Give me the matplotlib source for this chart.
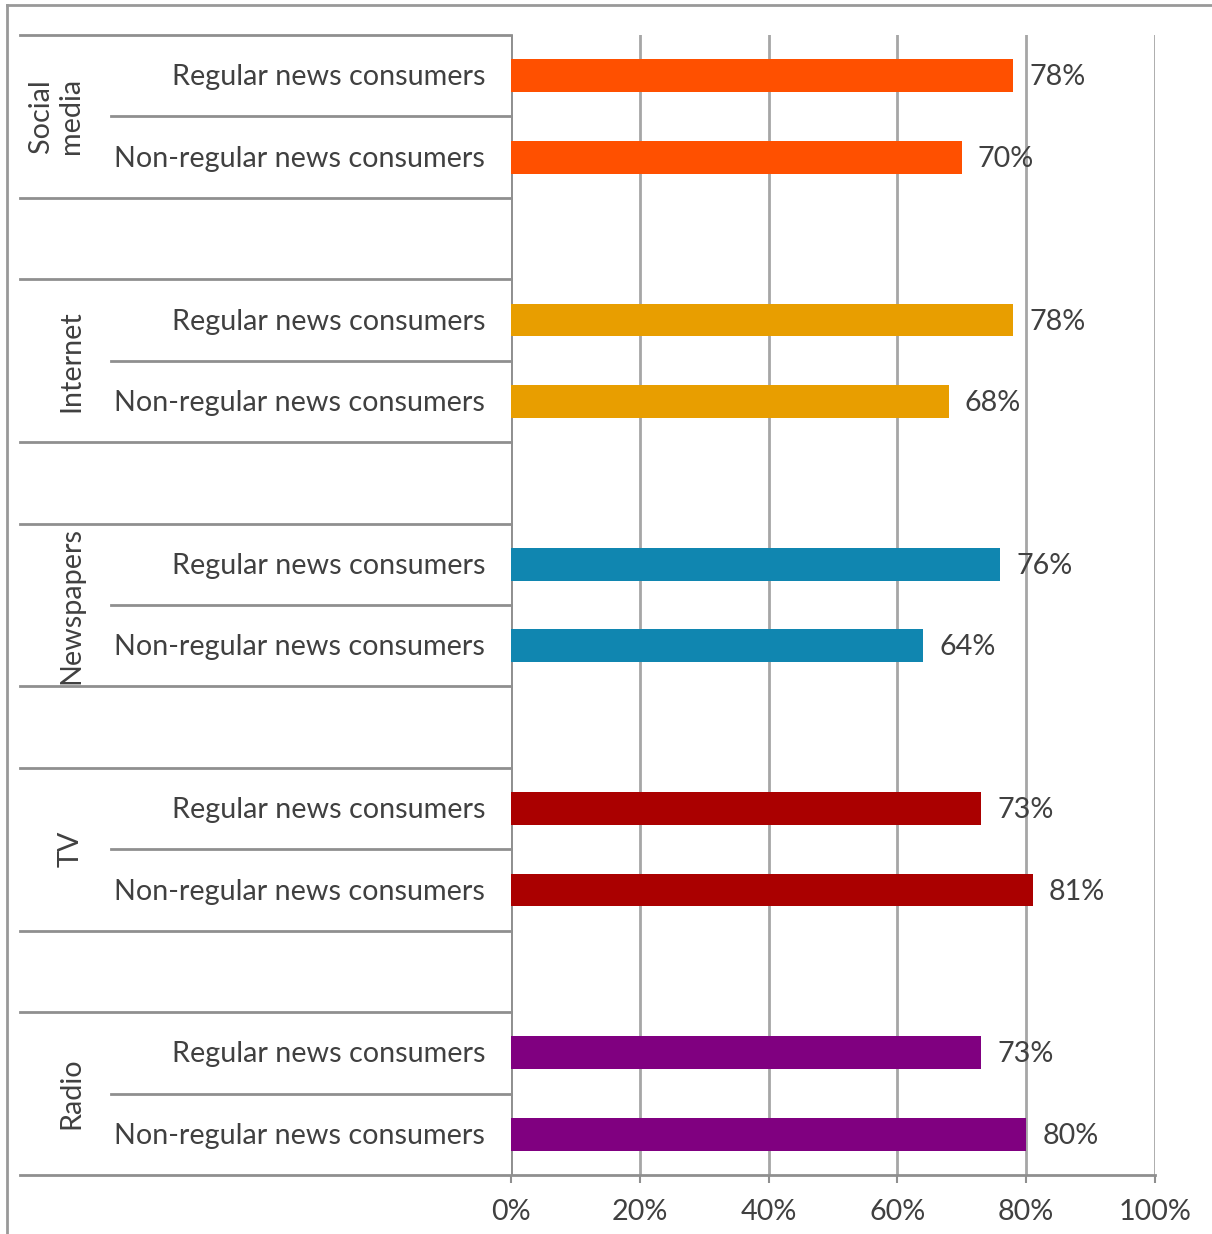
import numpy as np
import matplotlib.pyplot as plt
from matplotlib.lines import Line2D

# Data
groups = ['Social\nmedia', 'Internet', 'Newspapers', 'TV', 'Radio']
sub_labels = ['Regular news consumers', 'Non-regular news consumers']
regular = [78, 78, 76, 73, 73]
non_regular = [70, 68, 64, 81, 80]
colors = ['#FF5000', '#E89E00', '#1086B0', '#AA0000', '#800080']
xticks = [0, 20, 40, 60, 80, 100]

W, H = 1212, 1234
fig = plt.figure(figsize=(W / 100, H / 100), dpi=100)
plt.rcParams['font.family'] = ['Lato', 'DejaVu Sans']
txt = '#404040'
line_c = '#8f8f8f'
fs = 20.7

# plot area in pixels
x0, x1, y0, y1 = 511, 1155, 35, 1175
ax = fig.add_axes([x0 / W, 1 - y1 / H, (x1 - x0) / W, (y1 - y0) / H])

n_slots = 3 * len(groups) - 1
ax.set_ylim(n_slots - 0.5, -0.5)
ax.set_xlim(0, 100)

px = 100 / (x1 - x0)  # data units per pixel on x
x_outer = (20 - x0) * px
x_inner = (111 - x0) * px
x_label = (485 - x0) * px

for i, g in enumerate(groups):
    base = 3 * i
    vals = [regular[i], non_regular[i]]
    for j in range(2):
        y = base + j
        ax.barh(y, vals[j], height=0.405, color=colors[i], zorder=3)
        ax.text(vals[j] + 16 * px, y + 0.02, f'{vals[j]}%', va='center', ha='left',
                fontsize=fs, color=txt, zorder=4)
        ax.text(x_label, y + 0.02, sub_labels[j], va='center', ha='right',
                fontsize=fs, color=txt, clip_on=False)
    gx = 56 if '\n' in g else 71
    ax.text((gx - x0) * px, base + 0.5, g, rotation=90, va='center', ha='center',
            fontsize=fs, color=txt, clip_on=False, linespacing=1.15)
    # separator lines
    ax.plot([x_inner, 0], [base + 0.5, base + 0.5], color=line_c, lw=2,
            clip_on=False, zorder=2)
    ax.plot([x_outer, 0], [base - 0.5, base - 0.5], color=line_c, lw=2,
            clip_on=False, zorder=2)
    if i < len(groups) - 1:
        ax.plot([x_outer, 0], [base + 1.5, base + 1.5], color=line_c, lw=2,
                clip_on=False, zorder=2)

# bottom axis line extending under category labels
ax.plot([x_outer, 100], [n_slots - 0.5, n_slots - 0.5], color=line_c, lw=2,
        clip_on=False, zorder=2)

for s in ax.spines.values():
    s.set_visible(False)
ax.set_xticks(xticks)
ax.set_xticklabels([f'{t}%' for t in xticks], fontsize=fs, color=txt)
ax.tick_params(axis='x', length=6, width=1.5, color=line_c, pad=11)
ax.set_yticks([])
ax.grid(axis='x', color='#a6a6a6', lw=2, zorder=1)
ax.axvline(0, color=line_c, lw=2, zorder=2)

# outer frame of the screenshot
fig.add_artist(Line2D([7 / W, 1], [1 - 5 / H, 1 - 5 / H], color='#999999', lw=2))
fig.add_artist(Line2D([7 / W, 7 / W], [0, 1 - 5 / H], color='#999999', lw=2))

fig.savefig('out.png', dpi=100)
